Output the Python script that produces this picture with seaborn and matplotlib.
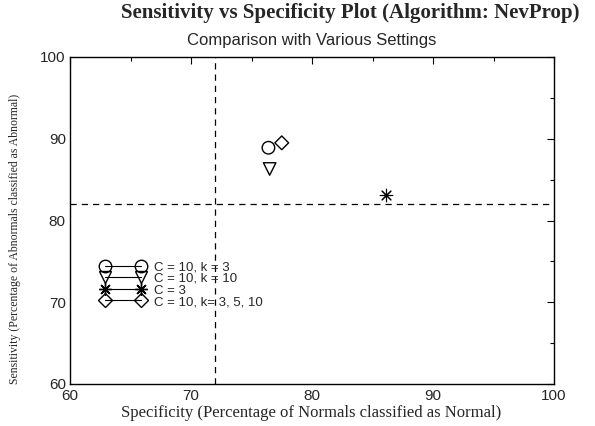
import matplotlib
matplotlib.use("Agg")
import matplotlib.pyplot as plt
import seaborn as sns
import pandas as pd
from matplotlib.lines import Line2D

# Data
labels = ["C = 10, k = 3", "C = 10, k = 10", "C = 3", "C = 10, k= 3, 5, 10"]
specificity = [76.4, 76.5, 86.1, 77.5]
sensitivity = [88.9, 86.3, 83.1, 89.5]
ref_specificity = 72
ref_sensitivity = 82
x_ticks = [60, 70, 80, 90, 100]
y_ticks = [60, 70, 80, 90, 100]

markers = ["o", "v", (8, 2, 0), "D"]
msizes = [9, 9, 9, 7]

sns.set_theme(style="white")
plt.rcParams["font.family"] = ["Liberation Sans", "DejaVu Sans"]

fig = plt.figure(figsize=(5.95, 4.26), dpi=100)
ax = fig.add_axes([70/595, 42/426, 484/595, 327/426])

df = pd.DataFrame({"spec": specificity, "sens": sensitivity, "label": labels})
for i, row in df.iterrows():
    if isinstance(markers[i], tuple):
        kw = dict(color="black", linewidth=0.8)
    else:
        kw = dict(facecolor="none", edgecolor="black", linewidth=1.0)
    sns.scatterplot(x=[row["spec"]], y=[row["sens"]], ax=ax, marker=markers[i],
                    s=msizes[i] ** 2, legend=False, zorder=3, **kw)

ax.axvline(ref_specificity, color="black", linestyle=(0, (5, 4)), linewidth=0.9)
ax.axhline(ref_sensitivity, color="black", linestyle=(0, (5, 4)), linewidth=0.9)

ax.set_xlim(60, 100)
ax.set_ylim(60, 100)
ax.set_xticks(x_ticks)
ax.set_yticks(y_ticks)
ax.set_xticks([65, 75, 85, 95], minor=True)
ax.set_yticks([65, 75, 85, 95], minor=True)
ax.tick_params(which="both", direction="in", top=True, right=True,
               labelsize=11, color="black")
ax.tick_params(axis="x", pad=3.5)
ax.tick_params(axis="y", pad=3)
ax.tick_params(which="major", length=5, width=0.8)
ax.tick_params(which="minor", length=3, width=0.8)
for sp in ax.spines.values():
    sp.set_color("black")
    sp.set_linewidth(1.0)

fig.text(311/595, 1 - 413/426, "Specificity (Percentage of Normals classified as Normal)",
         family="Liberation Serif", fontsize=12, ha="center", va="center")
fig.text(15/595, 1 - 239/426, "Sensitivity (Percentage of Abnormals classified as Abnormal)",
         family="Liberation Serif", fontsize=8.5, ha="center", va="center", rotation=90)
ax.set_title("Comparison with Various Settings", fontsize=12, pad=9)
fig.text(350/595, 1 - 13/426, "Sensitivity vs Specificity Plot (Algorithm: NevProp)",
         family="Liberation Serif", fontweight="bold", fontsize=15,
         ha="center", va="center")

handles = [Line2D([0], [0], color="black", linewidth=0.8, marker=m,
                  markersize=ms, markerfacecolor="none", markeredgecolor="black")
           for m, ms in zip(markers, msizes)]
leg = ax.legend(handles, labels, loc="upper left", bbox_to_anchor=(0.045, 0.404),
                numpoints=2, frameon=False, fontsize=9.5, handlelength=3.3,
                handletextpad=0.75, labelspacing=-0.05, borderpad=0.2)

fig.savefig("out.png", dpi=100)
